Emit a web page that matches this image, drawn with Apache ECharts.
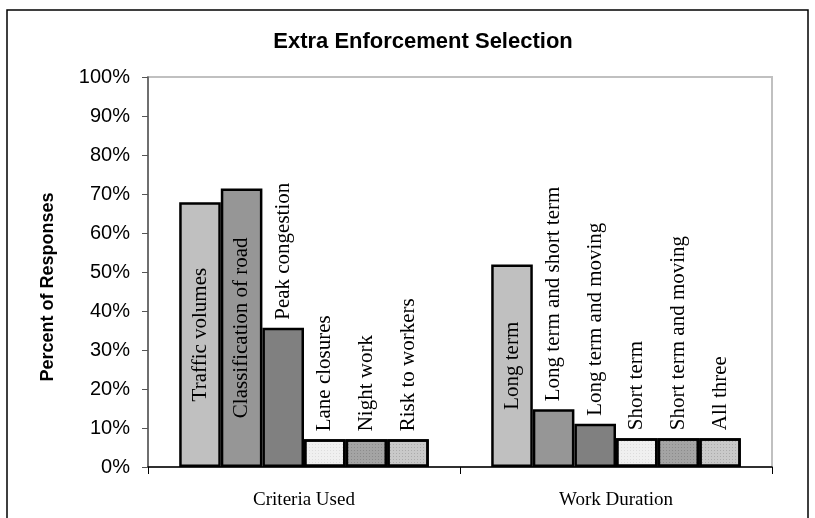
<!DOCTYPE html>
<html><head><meta charset="utf-8">
<script src="https://cdn.jsdelivr.net/npm/echarts@6/dist/echarts.min.js"></script>
<style>html,body{margin:0;padding:0;background:#fff}#c{width:815px;height:518px}</style>
</head><body><div id="c"></div>
<script>
const categories = ['Criteria Used', 'Work Duration'];
const criteriaLabels = ['Traffic volumes', 'Classification of road', 'Peak congestion', 'Lane closures', 'Night work', 'Risk to workers'];
const durationLabels = ['Long term', 'Long term and short term', 'Long term and moving', 'Short term', 'Short term and moving', 'All three'];
const criteriaValues = [67.9, 71.4, 35.7, 7.1, 7.1, 7.1];
const durationValues = [51.9, 14.8, 11.1, 7.4, 7.4, 7.4];
const yTicks = [0, 10, 20, 30, 40, 50, 60, 70, 80, 90, 100];

const colors = ['#c0c0c0', '#969696', '#808080', '#f0f0f0', '#a4a4a4', '#c9c9c9'];
const decals = [null, null, null,
  { symbol: 'rect', symbolSize: 1, dashArrayX: [1, 2], dashArrayY: [1, 2], color: 'rgba(0,0,0,0.08)' },
  { symbol: 'rect', symbolSize: 1, dashArrayX: [1, 2], dashArrayY: [1, 2], color: 'rgba(0,0,0,0.15)' },
  { symbol: 'rect', symbolSize: 1, dashArrayX: [1, 2], dashArrayY: [1, 2], color: 'rgba(0,0,0,0.15)' }];
const labelFont = { fontFamily: 'Liberation Serif', fontSize: 21, color: '#000' };

function item(v, name) {
  const inside = v > 45;
  return {
    value: v,
    label: inside
      ? Object.assign({ show: true, position: 'inside', rotate: 90, formatter: name }, labelFont)
      : Object.assign({ show: true, position: 'top', rotate: 90, align: 'left', verticalAlign: 'middle', distance: 8, formatter: name }, labelFont)
  };
}

const series = criteriaLabels.map((_, i) => ({
  type: 'bar',
  barGap: '0%',
  barCategoryGap: '20%',
  itemStyle: Object.assign({ color: colors[i], borderColor: '#000', borderWidth: 2.5 }, decals[i] ? { decal: decals[i] } : {}),
  data: [item(criteriaValues[i], criteriaLabels[i]), item(durationValues[i], durationLabels[i])]
}));

const chart = echarts.init(document.getElementById('c'), null, { renderer: 'canvas' });
chart.setOption({
  animation: false,
  backgroundColor: '#fff',
  aria: { enabled: false, decal: { show: true } },
  graphic: [{ type: 'rect', shape: { x: 7, y: 10, width: 801, height: 530 }, style: { fill: 'none', stroke: '#000', lineWidth: 1.5 }, z: -1 }],
  title: { text: 'Extra Enforcement Selection', left: 418, top: 26, textAlign: 'center',
    textStyle: { fontFamily: 'Liberation Sans', fontWeight: 'bold', fontSize: 22, color: '#000' } },
  grid: { left: 148, right: 43, top: 77, bottom: 51, show: true, borderColor: '#c0c0c0', borderWidth: 2 },
  xAxis: {
    type: 'category', data: categories,
    axisLine: { lineStyle: { color: '#000', width: 1.5 } },
    axisTick: { show: true, length: 7, lineStyle: { color: '#000' } },
    axisLabel: { margin: 24, fontFamily: 'Liberation Serif', fontSize: 19, color: '#000' }
  },
  yAxis: {
    type: 'value', min: yTicks[0], max: yTicks[yTicks.length - 1], interval: 10,
    name: 'Percent of Responses', nameLocation: 'middle', nameGap: 91, nameRotate: 90,
    nameTextStyle: { fontFamily: 'Liberation Sans', fontWeight: 'bold', fontSize: 18, color: '#000', padding: [0, 0, 0, -30] },
    axisLine: { show: true, lineStyle: { color: '#555', width: 1.5 } },
    axisTick: { show: true, length: 6, lineStyle: { color: '#555' } },
    splitLine: { show: false },
    axisLabel: { formatter: '{value}%', margin: 18, fontFamily: 'Liberation Sans', fontSize: 20, color: '#000' }
  },
  series: series
});
</script></body></html>
